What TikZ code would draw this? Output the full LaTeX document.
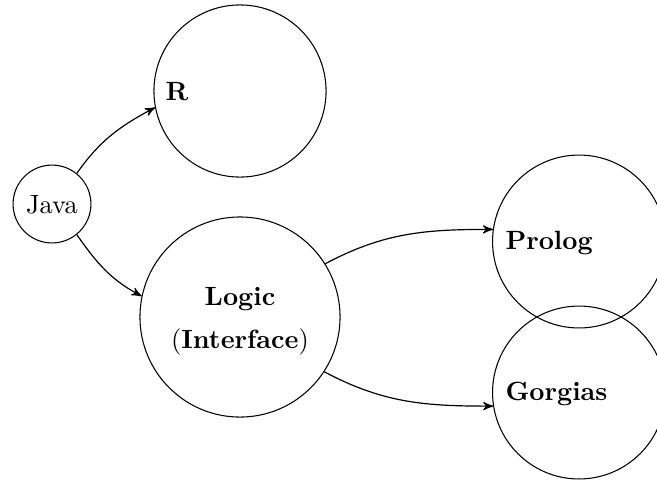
\documentclass[tikz,border=0pt]{standalone}
\usetikzlibrary{arrows}
\begin{document}
\begin{tikzpicture}[x=0.3788pt,y=-0.3788pt,
  blob/.style={circle,draw,inner sep=0pt},
  caption/.style={inner sep=0pt,anchor=base west,font=\bfseries},
  link/.style={-stealth',line width=0.45pt}]
\useasboundingbox (0,0) rectangle (657,483);
\clip (0,0) rectangle (657,483);
% circles
\node[blob,minimum size=29.5pt] (java) at (52,204) {};
\node[blob,minimum size=65.2pt] (r) at (240,91) {};
\node[blob,minimum size=75.8pt] (logic) at (240,317) {};
\node[blob,minimum size=65.5pt] (prolog) at (579,241.5) {};
\node[blob,minimum size=65.5pt] (gorgias) at (579,392.5) {};
% texts
\node[inner sep=0pt,anchor=base] (javat) at (52,213) {Java};
\node[caption] (rt) at (165,100) {R};
\node[caption] (prologt) at (505,249) {Prolog};
\node[caption] (gorgiast) at (505,400) {Gorgias};
\node[inner sep=0pt,anchor=base] (logict) at (240,305) {\textbf{Logic}};
\node[inner sep=0pt,anchor=base] (interfacet) at (240,348) {(\textbf{Interface})};
% connectors
\draw[link] (java.51) to[out=55,in=208] (r.191);
\draw[link] (java.-51) to[out=-55,in=152] (logic.168);
\draw[link] (logic.32) to[out=28,in=180] (prolog.172);
\draw[link] (logic.-33) to[out=-28,in=180] (gorgias.189);
\end{tikzpicture}
\end{document}
